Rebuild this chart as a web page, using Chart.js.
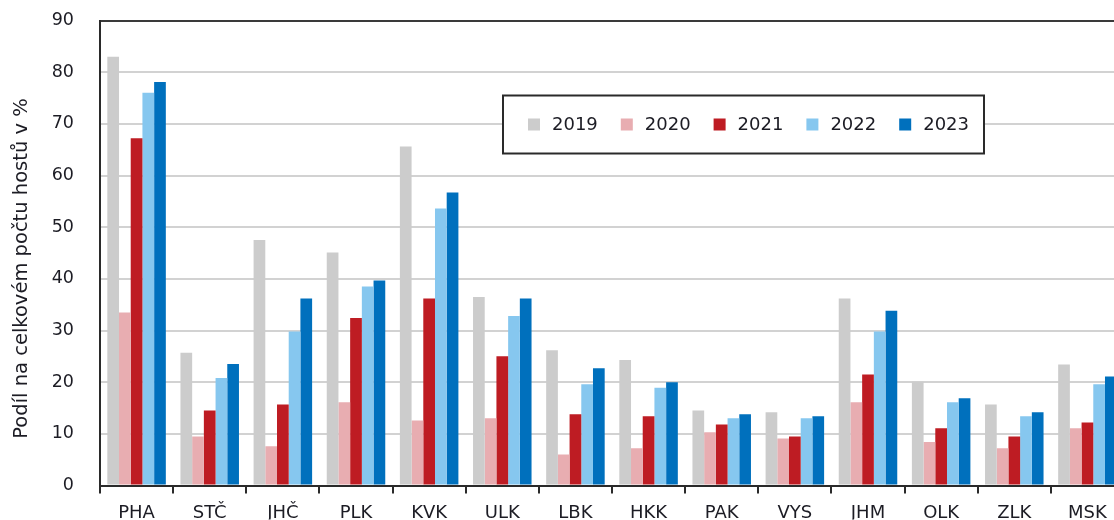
<!DOCTYPE html>
<html>
<head>
<meta charset="utf-8">
<script src="https://cdn.jsdelivr.net/npm/chart.js@4.4.1/dist/chart.umd.min.js"></script>
<style>
  html, body { margin: 0; padding: 0; background: #ffffff; overflow: hidden; width: 1114px; height: 520px; }
  #wrap { width: 1124px; height: 538px; position: absolute; left: 0; top: -16px; }
</style>
</head>
<body>
<div id="wrap"><canvas id="c"></canvas></div>
<script>
const categories = ['PHA', 'STČ', 'JHČ', 'PLK', 'KVK', 'ULK', 'LBK', 'HKK', 'PAK', 'VYS', 'JHM', 'OLK', 'ZLK', 'MSK'];
const seriesLabels = ['2019', '2020', '2021', '2022', '2023'];
const values2019 = [83.0, 25.7, 47.5, 45.1, 65.6, 36.5, 26.2, 24.3, 14.5, 14.2, 36.2, 20.1, 15.7, 23.4];
const values2020 = [33.5, 9.5, 7.6, 16.1, 12.6, 13.0, 6.0, 7.2, 10.3, 9.1, 16.1, 8.4, 7.2, 11.1];
const values2021 = [67.2, 14.5, 15.7, 32.4, 36.2, 25.0, 13.8, 13.4, 11.8, 9.5, 21.5, 11.1, 9.5, 12.2];
const values2022 = [76.0, 20.8, 29.8, 38.5, 53.6, 32.8, 19.6, 18.9, 13.0, 13.0, 29.8, 16.1, 13.4, 19.6];
const values2023 = [78.1, 23.5, 36.2, 39.7, 56.7, 36.2, 22.7, 20.0, 13.8, 13.4, 33.8, 16.9, 14.2, 21.1];
const yTicks = [0, 10, 20, 30, 40, 50, 60, 70, 80, 90];
const yTitle = 'Podíl na celkovém počtu hostů v %';

const colors = ['#cccccc', '#e8adb1', '#be1c23', '#86c7ef', '#0070bd'];
const allValues = [values2019, values2020, values2021, values2022, values2023];

const FONT = 'DejaVu Sans';
const TXT = '#1c1c24';

const legendPlugin = {
  id: 'boxLegend',
  afterDraw(chart) {
    const ctx = chart.ctx;
    const top = chart.chartArea.top;
    const x0 = 503, y0 = top + 75, w = 481, h = 58;
    ctx.save();
    ctx.fillStyle = '#ffffff';
    ctx.fillRect(x0, y0, w, h);
    ctx.lineWidth = 2;
    ctx.strokeStyle = '#2a2a2a';
    ctx.strokeRect(x0, y0, w, h);
    ctx.font = '18px "' + FONT + '"';
    ctx.textBaseline = 'middle';
    ctx.textAlign = 'left';
    const cy = y0 + h / 2;
    chart.data.datasets.forEach((ds, i) => {
      const sx = 528 + i * 92.8;
      ctx.fillStyle = ds.backgroundColor;
      ctx.fillRect(sx, cy - 6, 12, 12);
      ctx.fillStyle = TXT;
      ctx.fillText(ds.label, sx + 24, cy + 1);
    });
    ctx.restore();
  }
};

new Chart(document.getElementById('c'), {
  type: 'bar',
  data: {
    labels: categories,
    datasets: seriesLabels.map((lab, i) => ({
      label: lab,
      data: allValues[i],
      backgroundColor: colors[i],
      borderWidth: 0,
      categoryPercentage: 0.8,
      barPercentage: 1.0
    }))
  },
  options: {
    responsive: true,
    maintainAspectRatio: false,
    animation: false,
    layout: { padding: { top: 20, right: 0, bottom: 0, left: 0 } },
    plugins: {
      legend: { display: false },
      tooltip: { enabled: false }
    },
    scales: {
      x: {
        grid: {
          offset: true,
          drawOnChartArea: false,
          drawTicks: true,
          tickLength: 8,
          color: '#2a2a2a',
          lineWidth: 2
        },
        border: { display: true, color: '#2a2a2a', width: 2 },
        ticks: {
          color: TXT,
          font: { family: FONT, size: 18 },
          padding: 9,
          maxRotation: 0,
          autoSkip: false
        },
        afterFit(scale) { scale.height = 34; }
      },
      y: {
        min: 0,
        max: 90,
        afterBuildTicks(scale) { scale.ticks = yTicks.map(v => ({ value: v })); },
        grid: {
          drawTicks: false,
          color: (c) => (c.tick && c.tick.value === 90) ? '#3a3a3a' : '#d2d2d2',
          lineWidth: 2
        },
        border: { display: true, color: '#2a2a2a', width: 2 },
        ticks: {
          color: TXT,
          font: { family: FONT, size: 17.5 },
          padding: 26
        },
        title: {
          display: true,
          text: yTitle + '\u00a0\u00a0\u00a0\u00a0\u00a0',
          color: TXT,
          font: { family: FONT, size: 19.5 },
          padding: { top: 10, bottom: 0 }
        },
        afterFit(scale) { scale.width = 100; }
      }
    }
  },
  plugins: [legendPlugin]
});
</script>
</body>
</html>
